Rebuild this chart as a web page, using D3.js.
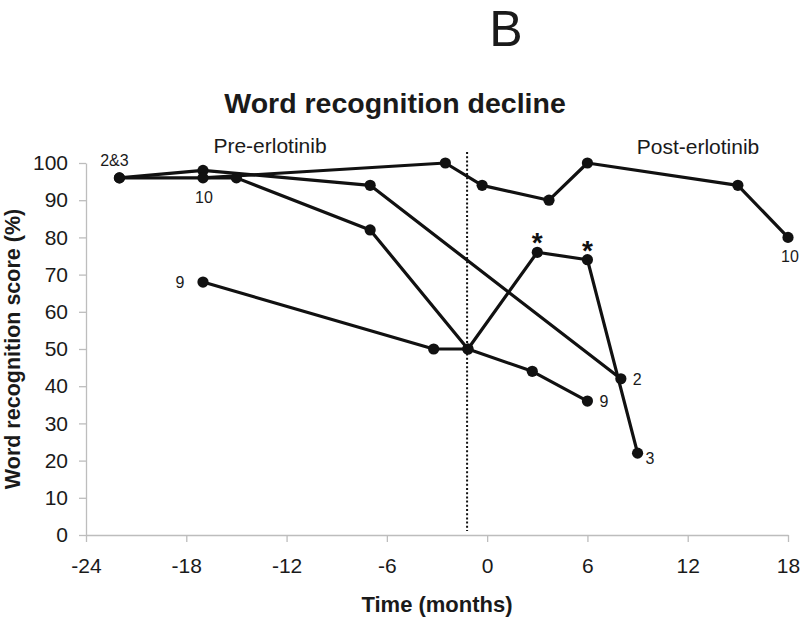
<!DOCTYPE html>
<html><head><meta charset="utf-8">
<script src="https://cdn.jsdelivr.net/npm/d3@7"></script>
<style>
html,body{margin:0;padding:0;background:#fff;}
text{font-family:"Liberation Sans",Arial,sans-serif;}
</style></head>
<body><svg id="chart" width="800" height="617"></svg>
<script>
// ---- data ----
const xTicks = [-24,-18,-12,-6,0,6,12,18];
const yTicks = [0,10,20,30,40,50,60,70,80,90,100];
const patientIds = ["2","3","9","10"];
const months2 = [-22,-17,-7,8];
const scores2 = [96,98,94,42];
const months3 = [-22,-15,-7,-1.15,3,6,9];
const scores3 = [96,96,82,50,76,74,22];
const months9 = [-17,-3.2,-1.15,2.7,6];
const scores9 = [68,50,50,44,36];
const months10 = [-17,-2.5,-0.3,3.7,6,15,18];
const scores10 = [96,100,94,90,100,94,80];
const erlotinibStart = -1.2;
const starMonths = [3,6];
const starScores = [76,74];
const panelLetter = "B";
const title = "Word recognition decline";
const xTitle = "Time (months)";
const yTitle = "Word recognition score (%)";
const phaseLabels = ["Pre-erlotinib","Post-erlotinib"];

const series = [
  {id:"2", m:months2, s:scores2},
  {id:"3", m:months3, s:scores3},
  {id:"9", m:months9, s:scores9},
  {id:"10", m:months10, s:scores10}
];

// ---- drawing ----
const svg = d3.select("#chart");
const x = d3.scaleLinear().domain([-24,18]).range([86,788]);
const y = d3.scaleLinear().domain([0,100]).range([535,163]);
const axisColor = "#bdbdbd", textColor = "#1a1a1a", ink = "#111";

// x axis
const gx = svg.append("g").attr("transform","translate(0,535)")
  .call(d3.axisBottom(x).tickValues(xTicks).tickSize(7).tickSizeOuter(0).tickPadding(16).tickFormat(d=>String(d)));
gx.select(".domain").attr("stroke",axisColor).attr("stroke-width",1.3);
gx.selectAll(".tick line").attr("stroke",axisColor).attr("stroke-width",1.3);
gx.selectAll(".tick text").attr("fill",textColor).style("font-size","21px").style("font-family","'Liberation Sans',Arial,sans-serif");

// y axis
const gy = svg.append("g").attr("transform","translate(86,0)")
  .call(d3.axisLeft(y).tickValues(yTicks).tickSize(7).tickSizeOuter(0).tickPadding(11).tickFormat(d=>String(d)));
gy.select(".domain").attr("stroke",axisColor).attr("stroke-width",1.3);
gy.selectAll(".tick line").attr("stroke",axisColor).attr("stroke-width",1.3);
gy.selectAll(".tick text").attr("fill",textColor).style("font-size","21px").style("font-family","'Liberation Sans',Arial,sans-serif");

// dotted erlotinib start line
svg.append("line")
  .attr("x1",x(erlotinibStart)).attr("x2",x(erlotinibStart))
  .attr("y1",152).attr("y2",531)
  .attr("stroke",ink).attr("stroke-width",2).attr("stroke-dasharray","2,2.2");

// lines
const line = d3.line().x(d=>x(d[0])).y(d=>y(d[1]));
series.forEach(sr=>{
  const pts = sr.m.map((m,i)=>[m,sr.s[i]]);
  svg.append("path").datum(pts).attr("d",line)
    .attr("fill","none").attr("stroke",ink).attr("stroke-width",3.2).attr("stroke-linejoin","round");
});
series.forEach(sr=>{
  const pts = sr.m.map((m,i)=>[m,sr.s[i]]);
  svg.selectAll(null).data(pts).enter().append("circle")
    .attr("cx",d=>x(d[0])).attr("cy",d=>y(d[1])).attr("r",5.6).attr("fill",ink);
});

// stars
svg.selectAll(null).data(starMonths.map((m,i)=>[m,starScores[i]])).enter().append("text")
  .attr("x",d=>x(d[0])).attr("y",d=>y(d[1]))
  .attr("text-anchor","middle").attr("fill",ink)
  .style("font-size","28px").style("font-weight","bold").text("*");

// point labels (attached to series points)
const lbl = (txt, m, s, dx, dy, anchor) => svg.append("text")
  .attr("x",x(m)+dx).attr("y",y(s)+dy).attr("text-anchor",anchor)
  .attr("fill",textColor).style("font-size","16px").text(txt);
lbl("2&3", months2[0], scores2[0], -5, -12, "middle");
lbl("10", months10[0], scores10[0], 1, 25, "middle");
lbl("9", months9[0], scores9[0], -23, 6, "middle");
lbl("10", months10[months10.length-1], scores10[scores10.length-1], 2, 25, "middle");
lbl("2", months2[months2.length-1], scores2[scores2.length-1], 12, 6, "start");
lbl("9", months9[months9.length-1], scores9[scores9.length-1], 12, 6, "start");
lbl("3", months3[months3.length-1], scores3[scores3.length-1], 8, 11, "start");

// phase labels
svg.append("text").attr("x",270).attr("y",153).attr("text-anchor","middle")
  .attr("fill",textColor).style("font-size","21px").text(phaseLabels[0]);
svg.append("text").attr("x",698).attr("y",154).attr("text-anchor","middle")
  .attr("fill",textColor).style("font-size","21px").text(phaseLabels[1]);

// titles
svg.append("text").attr("x",506).attr("y",46).attr("text-anchor","middle")
  .attr("fill",textColor).style("font-size","50px").text(panelLetter);
svg.append("text").attr("x",395).attr("y",113).attr("text-anchor","middle")
  .attr("fill",textColor).style("font-size","28.5px").style("font-weight","bold").text(title);
svg.append("text").attr("x",437).attr("y",612).attr("text-anchor","middle")
  .attr("fill",textColor).style("font-size","22px").style("font-weight","bold").text(xTitle);
svg.append("text").attr("transform","translate(20,349) rotate(-90)").attr("text-anchor","middle")
  .attr("fill",textColor).style("font-size","21.5px").style("font-weight","bold").text(yTitle);
</script></body></html>
